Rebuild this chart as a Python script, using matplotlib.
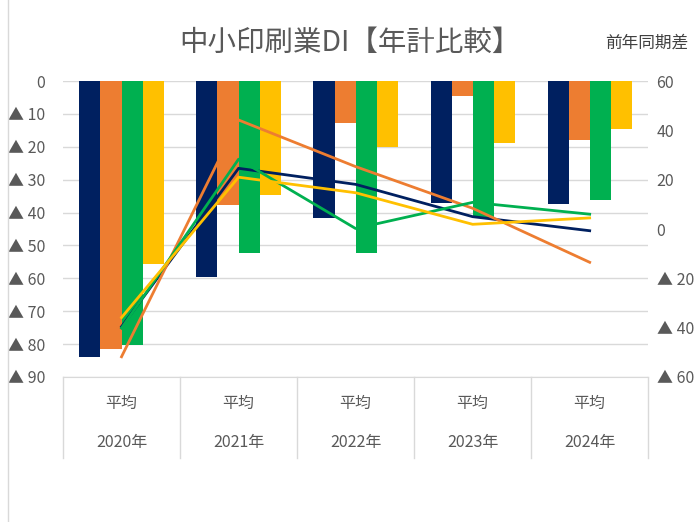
import numpy as np
import matplotlib.pyplot as plt
from matplotlib.ticker import FuncFormatter

plt.rcParams['font.family'] = ['Noto Sans CJK JP', 'DejaVu Sans']

years = ['2020年', '2021年', '2022年', '2023年', '2024年']
sub_label = '平均'

# DI levels (bars, left axis)
di_navy = [-84.0, -59.7, -41.8, -37.0, -37.5]
di_orange = [-81.4, -37.6, -12.7, -4.5, -17.9]
di_green = [-80.2, -52.3, -52.3, -41.7, -36.2]
di_yellow = [-55.7, -34.6, -20.1, -18.7, -14.5]

# change from the previous year (lines, right axis)
yoy_navy = [-39.6, 24.6, 18.1, 5.0, -0.7]
yoy_orange = [-51.8, 44.2, 25.3, 8.4, -13.5]
yoy_green = [-40.2, 28.3, 0.2, 10.8, 6.0]
yoy_yellow = [-35.9, 21.0, 14.7, 1.9, 4.5]

colors = ['#002060', '#ED7D31', '#00B050', '#FFC000']
grey = '#595959'


def tri(v, pos):
    if v < 0:
        return '▲ %d' % abs(v)
    return '%d' % v


fig = plt.figure(figsize=(7, 5.22), dpi=100)
ax = fig.add_axes([0.09, 0.2778, 0.836, 0.567])
x = np.arange(len(years))
w = 0.18

bars = [di_navy, di_orange, di_green, di_yellow]
for i, (vals, c) in enumerate(zip(bars, colors)):
    ax.bar(x + (i - 1.5) * w, vals, w, color=c, zorder=2)

ax.set_xlim(-0.5, len(years) - 0.5)
ax.set_ylim(-90, 0)
ax.set_yticks(np.arange(-90, 1, 10))
ax.yaxis.set_major_formatter(FuncFormatter(tri))
ax.grid(axis='y', color='#D9D9D9', linewidth=1, zorder=0)
ax.tick_params(axis='y', length=0, labelsize=11.5, labelcolor=grey, pad=13)
ax.set_xticks([])
for s in ['top', 'left', 'right']:
    ax.spines[s].set_visible(False)
ax.spines['bottom'].set_color('#D9D9D9')

# two-level category labels with separators
trans = ax.get_xaxis_transform()
for i, yr in enumerate(years):
    ax.text(i, -0.09, sub_label, transform=trans, ha='center', va='center',
            fontsize=11.5, color=grey)
    ax.text(i, -0.22, yr, transform=trans, ha='center', va='center',
            fontsize=11.5, color=grey)
for b in np.arange(-0.5, len(years), 1.0):
    ax.plot([b, b], [0, -0.275], transform=trans, color='#D9D9D9',
            linewidth=1, clip_on=False)

ax2 = ax.twinx()
lines = [yoy_navy, yoy_orange, yoy_green, yoy_yellow]
for vals, c in zip(lines, colors):
    ax2.plot(x, vals, color=c, linewidth=2)
ax2.set_ylim(-60, 60)
ax2.set_yticks(np.arange(-60, 61, 20))
ax2.yaxis.set_major_formatter(FuncFormatter(tri))
ax2.tick_params(axis='y', length=0, labelsize=11.5, labelcolor=grey, pad=6)
for s in ax2.spines.values():
    s.set_visible(False)

fig.text(0.5, 0.918, '中小印刷業DI【年計比較】', ha='center', va='center',
         fontsize=20.5, color=grey)
fig.text(0.865, 0.918, '前年同期差', ha='left', va='center',
         fontsize=12, color='#404040')

# outer frame edge on the left
fig.add_artist(plt.Line2D([0.012, 0.012], [0, 1], color='#D9D9D9',
                          linewidth=1, transform=fig.transFigure))

fig.savefig('out.png', dpi=100)
